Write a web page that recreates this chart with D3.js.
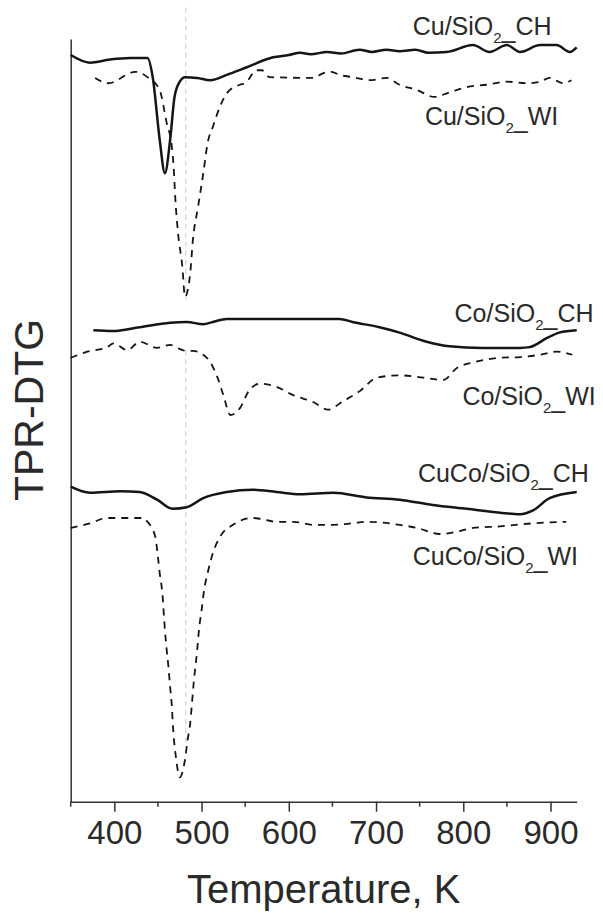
<!DOCTYPE html>
<html>
<head>
<meta charset="utf-8">
<script src="https://cdn.jsdelivr.net/npm/d3@7"></script>
<style>
  body { margin: 0; background: #fff; }
  svg text { font-family: "Liberation Sans", Arial, sans-serif; fill: #2a2a2a; }
</style>
</head>
<body>
<div id="chart"></div>
<script>
"use strict";

// ---- data (temperature in K, signal in arbitrary units, curves stacked) ----
var cuCH = [[350,97.9],[372,96.9],[395,97.3],[418,97.5],[438,97.5],[444,95.0],[452,86.8],[458,82.4],
	[464,86.8],[469,92.4],[475,94.4],[481,95.0],[495,94.9],[510,94.6],[529,95.3],[552,96.3],[582,97.6],
	[600,97.9],[613,98.2],[625,98.0],[644,98.3],[660,98.1],[681,98.6],[695,98.3],[712,98.6],[727,98.4],
	[745,98.6],[760,98.2],[781,98.3],[811,99.2],[830,98.3],[850,99.2],[865,98.3],[888,99.2],[907,99.2],
	[922,98.3],[930,98.9]];
var cuWI = [[378,94.9],[393,94.2],[424,95.7],[438,95.0],[452,93.3],[460,89.0],[466,85.8],[468,83.2],
	[470,78.9],[473,74.6],[478,70.1],[481,66.2],[487,69.3],[490,73.6],[496,78.0],[502,82.4],[507,86.4],
	[513,88.5],[521,91.1],[529,92.9],[544,94.0],[550,94.2],[563,95.9],[569,95.9],[578,95.0],[628,94.9],
	[639,95.5],[649,95.7],[658,95.3],[673,95.0],[693,94.6],[712,94.9],[727,94.0],[747,93.3],[767,92.4],
	[784,93.0],[804,93.7],[827,94.0],[850,94.4],[873,94.2],[888,94.4],[899,94.9],[914,94.2],[924,94.6]];
var coCH = [[376,61.8],[398,61.7],[429,62.2],[464,62.8],[483,62.9],[502,62.6],[513,62.9],[529,63.3],
	[658,63.3],[673,62.9],[704,62.2],[727,61.5],[758,60.3],[784,59.7],[822,59.5],[865,59.5],[876,59.6],
	[896,60.8],[910,61.5],[930,61.8]];
var coWI = [[350,58.2],[369,59.0],[392,59.6],[399,60.1],[415,59.2],[429,60.3],[449,59.5],[464,59.9],
	[472,59.5],[483,59.1],[490,59.1],[506,58.2],[518,55.7],[525,53.3],[533,50.7],[544,51.6],[555,54.0],
	[567,54.8],[586,54.4],[605,53.3],[628,52.4],[645,51.4],[662,52.5],[681,53.8],[701,55.6],[727,55.9],
	[754,55.6],[777,55.3],[793,56.9],[811,57.6],[842,58.2],[865,58.3],[888,58.6],[907,59.0],[925,58.6]];
var cucoCH = [[350,41.3],[372,40.5],[407,40.7],[429,40.6],[449,39.6],[467,38.4],[483,38.6],[502,39.8],
	[529,40.6],[559,40.9],[586,40.6],[613,40.3],[651,40.5],[689,39.9],[727,39.6],[765,38.9],[804,38.4],
	[842,37.9],[865,37.7],[880,38.2],[899,39.8],[930,40.6]];
var cucoWI = [[350,35.9],[372,36.5],[392,37.2],[433,37.2],[438,36.7],[447,34.7],[450,32.1],[452,30.0],
	[455,27.4],[458,22.5],[460,19.9],[462,17.7],[464,15.0],[466,12.4],[467,10.3],[471,5.5],[475,3.2],
	[481,5.5],[484,8.1],[487,10.3],[489,12.9],[491,15.6],[495,19.9],[497,22.5],[500,25.1],[503,27.8],
	[507,30.0],[513,32.6],[521,34.7],[536,36.3],[559,37.2],[567,37.1],[586,36.7],[605,36.7],[628,36.3],
	[651,36.3],[673,36.5],[689,36.7],[727,36.3],[747,35.9],[773,35.1],[793,35.4],[811,35.9],[842,36.1],
	[880,36.5],[918,36.7]];

var xMajorTicks = [400, 500, 600, 700, 800, 900];
var xMinorTicks = [350, 450, 550, 650, 750, 850];

// sample names: [prefix, subscript, suffix]
var sampleNames = [["Cu/SiO", "2", "CH"], ["Cu/SiO", "2", "WI"], ["Co/SiO", "2", "CH"],
	["Co/SiO", "2", "WI"], ["CuCo/SiO", "2", "CH"], ["CuCo/SiO", "2", "WI"]];

// reference temperature line (K) and the signal spans it covers
var refTemp = 482;
var refSpans = [[104.1, 65.8], [59.2, 7.4]];

// ---- layout ----
var width = 603, height = 913;
var plotLeft = 70.7, plotRight = 576.7, plotTop = 39, plotBottom = 801.7;

var svg = d3.select("#chart").append("svg")
	.attr("width", width)
	.attr("height", height);

var x = d3.scaleLinear().domain([350, 930]).range([plotLeft, plotRight]);
var y = d3.scaleLinear().domain([0, 100]).range([plotBottom, plotTop]);

// series with line style and label anchor (temp, value)
var series = [
	{data: cuCH, dashed: false, name: sampleNames[0], lx: 742, ly: 100.5},
	{data: cuWI, dashed: true, name: sampleNames[1], lx: 756, ly: 88.7},
	{data: coCH, dashed: false, name: sampleNames[2], lx: 790, ly: 62.9},
	{data: coWI, dashed: true, name: sampleNames[3], lx: 799, ly: 52.0},
	{data: cucoCH, dashed: false, name: sampleNames[4], lx: 748, ly: 41.9},
	{data: cucoWI, dashed: true, name: sampleNames[5], lx: 742, ly: 31.0}
];

// reference line (light grey, dashed)
svg.selectAll("line.ref")
	.data(refSpans)
	.enter().append("line")
	.attr("class", "ref")
	.attr("x1", x(refTemp)).attr("x2", x(refTemp))
	.attr("y1", function(d){ return y(d[0]); })
	.attr("y2", function(d){ return y(d[1]); })
	.attr("stroke", "#c8c8c8")
	.attr("stroke-width", 1)
	.attr("stroke-dasharray", "5,4");

// axes
var xAxis = svg.append("g")
	.attr("transform", "translate(0," + plotBottom + ")")
	.call(d3.axisBottom(x).tickValues(xMajorTicks).tickSize(10).tickSizeOuter(0).tickPadding(9));
xAxis.select(".domain").attr("stroke", "#333").attr("stroke-width", 1.5);
xAxis.selectAll(".tick line").attr("stroke", "#333").attr("stroke-width", 1.5);
xAxis.selectAll(".tick text")
	.style("font-size", "33px")
	.attr("fill", "#2a2a2a");

svg.append("g")
	.attr("transform", "translate(0," + plotBottom + ")")
	.selectAll("line")
	.data(xMinorTicks)
	.enter().append("line")
	.attr("x1", function(d){ return x(d); })
	.attr("x2", function(d){ return x(d); })
	.attr("y1", 0).attr("y2", 5)
	.attr("stroke", "#333").attr("stroke-width", 1.5);

var yAxis = svg.append("g")
	.attr("transform", "translate(" + plotLeft + ",0)")
	.call(d3.axisLeft(y).tickValues([]).tickSizeOuter(0));
yAxis.select(".domain").attr("stroke", "#333").attr("stroke-width", 1.5);

// axis titles
svg.append("text")
	.attr("x", (plotLeft + plotRight) / 2)
	.attr("y", 903)
	.attr("text-anchor", "middle")
	.style("font-size", "40px")
	.text("Temperature, K");

svg.append("text")
	.attr("transform", "translate(43," + 410 + ") rotate(-90)")
	.attr("text-anchor", "middle")
	.style("font-size", "41px")
	.text("TPR-DTG");

// curves
var line = d3.line()
	.x(function(d){ return x(d[0]); })
	.y(function(d){ return y(d[1]); })
	.curve(d3.curveMonotoneX);

svg.selectAll("path.curve")
	.data(series)
	.enter().append("path")
	.attr("class", "curve")
	.attr("d", function(d){ return line(d.data); })
	.attr("fill", "none")
	.attr("stroke", "#151515")
	.attr("stroke-width", function(d){ return d.dashed ? 1.8 : 2.5; })
	.attr("stroke-dasharray", function(d){ return d.dashed ? "7,6" : null; })
	.attr("stroke-linejoin", "round");

// curve labels with subscript
var labels = svg.selectAll("text.lbl")
	.data(series)
	.enter().append("text")
	.attr("class", "lbl")
	.attr("x", function(d){ return x(d.lx); })
	.attr("y", function(d){ return y(d.ly); })
	.style("font-size", "25px");
labels.append("tspan").text(function(d){ return d.name[0]; });
labels.append("tspan").attr("dy", 8).style("font-size", "15px").text(function(d){ return d.name[1]; });
labels.append("tspan").attr("dy", -5).text("_");
labels.append("tspan").attr("dy", -3).text(function(d){ return d.name[2]; });
</script>
</body>
</html>
